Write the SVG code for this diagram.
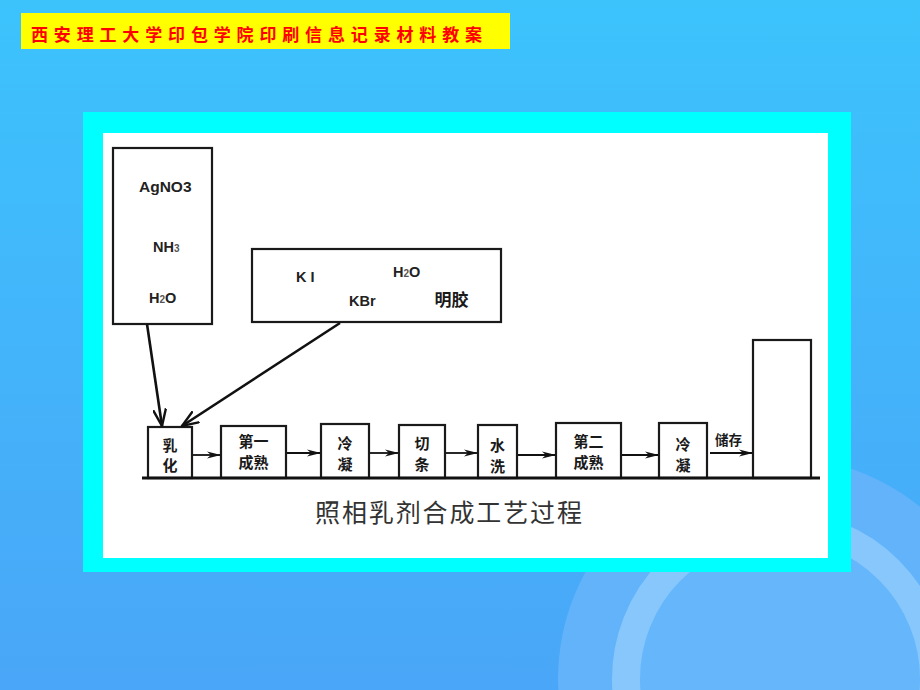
<svg xmlns="http://www.w3.org/2000/svg" width="920" height="690" viewBox="0 0 920 690">
<defs>
  <linearGradient id="bg" x1="0" y1="0" x2="0" y2="1">
    <stop offset="0" stop-color="#3cc3fc"/>
    <stop offset="1" stop-color="#4aa6f8"/>
  </linearGradient>
  <marker id="ah" viewBox="0 0 14 8" refX="13" refY="4" markerWidth="14" markerHeight="8" markerUnits="userSpaceOnUse" orient="auto">
    <path d="M0,0.5 L14,4 L0,7.5 L4,4 z" fill="#111"/>
  </marker>
  <marker id="av" viewBox="0 0 18 14" refX="17" refY="7" markerWidth="18" markerHeight="14" markerUnits="userSpaceOnUse" orient="auto">
    <path d="M0,0.5 L17,7 L0,13.5" fill="none" stroke="#111" stroke-width="2.4"/>
  </marker>
</defs>
<style>
  .box{fill:#fff;stroke:#1a1a1a;stroke-width:2.2}
  .lat{font-family:"Liberation Sans",Arial,sans-serif;font-weight:bold;fill:#222}
  .cjk{font-family:"Noto Sans CJK SC","Noto Sans",sans-serif;font-weight:bold;fill:#1a1a1a;text-anchor:middle}
  .flow{stroke:#111;stroke-width:1.8;fill:none}
  .sub{font-size:10px;fill:#555}
</style>
<rect width="920" height="690" fill="url(#bg)"/>
<circle cx="780" cy="679" r="222" fill="#62b3fa"/>
<circle cx="780" cy="679" r="154" fill="#66b6fc" stroke="#88c7fc" stroke-width="28"/>

<g id="title">
  <rect x="21" y="13" width="489" height="36" fill="#ffff00"/>
  <text x="31" y="41" font-family="'Noto Sans CJK SC',sans-serif" font-size="17" font-weight="bold" fill="#ff0000" textLength="451" lengthAdjust="spacing">西安理工大学印包学院印刷信息记录材料教案</text>
</g>

<rect x="83" y="112" width="768" height="460" fill="#00ffff"/>
<rect x="103" y="133" width="725" height="425" fill="#ffffff"/>

<g id="src1">
  <rect class="box" x="113" y="148" width="99" height="176"/>
  <text class="lat" x="139" y="192" font-size="15.5">AgNO3</text>
  <text class="lat" x="153" y="252" font-size="14.5">NH<tspan class="sub">3</tspan></text>
  <text class="lat" x="149" y="303" font-size="14.5">H<tspan class="sub">2</tspan>O</text>
</g>

<g id="src2">
  <rect class="box" x="252" y="249" width="249" height="73"/>
  <text class="lat" x="296" y="282" font-size="14.5">K I</text>
  <text class="lat" x="393" y="277" font-size="14.5">H<tspan class="sub">2</tspan>O</text>
  <text class="lat" x="349" y="306" font-size="14.5">KBr</text>
  <text class="cjk" x="451.5" y="306" font-size="17">明胶</text>
</g>

<g id="n1"><rect class="box" x="148" y="427" width="44" height="51"/>
  <text class="cjk" x="170" y="451" font-size="15">乳</text><text class="cjk" x="170" y="471" font-size="15">化</text></g>
<g id="n2"><rect class="box" x="221" y="426" width="65" height="52"/>
  <text class="cjk" x="253.5" y="447" font-size="15">第一</text><text class="cjk" x="253.5" y="468" font-size="15">成熟</text></g>
<g id="n3"><rect class="box" x="321" y="424" width="48" height="54"/>
  <text class="cjk" x="345" y="449" font-size="15">冷</text><text class="cjk" x="345" y="470" font-size="15">凝</text></g>
<g id="n4"><rect class="box" x="399" y="425" width="46" height="53"/>
  <text class="cjk" x="422" y="449" font-size="15">切</text><text class="cjk" x="422" y="470" font-size="15">条</text></g>
<g id="n5"><rect class="box" x="478" y="425" width="39" height="53"/>
  <text class="cjk" x="497.5" y="451" font-size="15">水</text><text class="cjk" x="497.5" y="472" font-size="15">洗</text></g>
<g id="n6"><rect class="box" x="556" y="423" width="65" height="55"/>
  <text class="cjk" x="588.5" y="447" font-size="15">第二</text><text class="cjk" x="588.5" y="468" font-size="15">成熟</text></g>
<g id="n7"><rect class="box" x="659" y="423" width="48" height="55"/>
  <text class="cjk" x="683" y="450" font-size="15">冷</text><text class="cjk" x="683" y="471" font-size="15">凝</text></g>
<g id="n8"><rect class="box" x="753" y="340" width="58" height="138"/></g>

<g id="connectors">
  <line x1="142" y1="478" x2="820" y2="478" stroke="#111" stroke-width="3"/>
  <line x1="147" y1="324" x2="162" y2="426" stroke="#111" stroke-width="2.6" marker-end="url(#av)"/>
  <line x1="340" y1="323" x2="182" y2="426" stroke="#111" stroke-width="2.6" marker-end="url(#av)"/>
  <line class="flow" x1="193" y1="455" x2="220" y2="455" marker-end="url(#ah)"/>
  <line class="flow" x1="287" y1="453" x2="320" y2="453" marker-end="url(#ah)"/>
  <line class="flow" x1="370" y1="453" x2="398" y2="453" marker-end="url(#ah)"/>
  <line class="flow" x1="446" y1="453" x2="477" y2="453" marker-end="url(#ah)"/>
  <line class="flow" x1="518" y1="455" x2="555" y2="455" marker-end="url(#ah)"/>
  <line class="flow" x1="622" y1="455" x2="658" y2="455" marker-end="url(#ah)"/>
  <line class="flow" x1="710" y1="453" x2="752" y2="453" marker-end="url(#ah)"/>
  <text class="cjk" x="728.5" y="445" font-size="13.5">储存</text>
</g>

<text x="315" y="522" font-family="'Noto Sans CJK SC',sans-serif" font-size="25" font-weight="400" fill="#333" textLength="267" lengthAdjust="spacing">照相乳剂合成工艺过程</text>
</svg>
